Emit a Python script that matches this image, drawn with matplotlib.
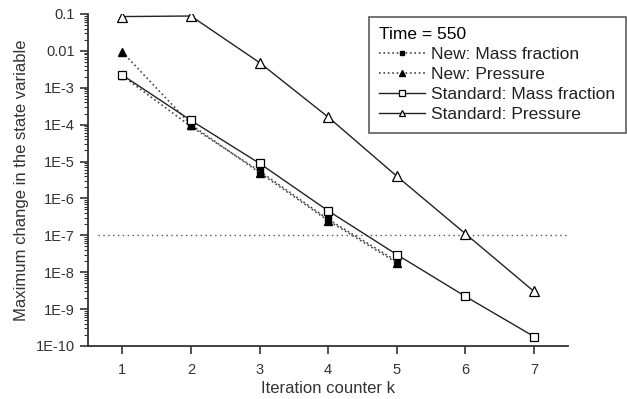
import matplotlib.pyplot as plt
from matplotlib.ticker import LogLocator, FixedLocator, FixedFormatter, NullFormatter

plt.rcParams['font.family'] = ['Liberation Sans', 'DejaVu Sans']

# data
k = [1, 2, 3, 4, 5, 6, 7]
new_mass = [2.1e-3, 8.9e-5, 5.5e-6, 2.7e-7, 2.0e-8]
new_pressure = [9.3e-3, 1.0e-4, 5.0e-6, 2.5e-7, 1.8e-8]
std_mass = [2.2e-3, 1.3e-4, 8.9e-6, 4.6e-7, 3.0e-8, 2.2e-9, 1.8e-10]
std_pressure = [0.085, 0.088, 4.8e-3, 1.6e-4, 4.0e-6, 1.1e-7, 3.0e-9]
tolerance = 1e-7

ytick_vals = [1e-10, 1e-9, 1e-8, 1e-7, 1e-6, 1e-5, 1e-4, 1e-3, 0.01, 0.1]
ytick_labels = ['1E-10', '1E-9', '1E-8', '1E-7', '1E-6', '1E-5', '1E-4', '1E-3', '0.01', '0.1']

fig = plt.figure(figsize=(6.27, 3.99), dpi=100)
ax = fig.add_axes([0.1404, 0.133, 0.766, 0.832])

gray = '#333333'
ax.axhline(tolerance, xmin=0.02, xmax=1.0, color='#555555', ls=(0, (1, 2.5)), lw=1.0)

ax.plot(k[:5], new_mass, ls=':', color='#444444', lw=1.2, marker='s', ms=5,
        mfc='black', mec='black', label='New: Mass fraction')
ax.plot(k[:5], new_pressure, ls=':', color='#444444', lw=1.2, marker='^', ms=6,
        mfc='black', mec='black', label='New: Pressure')
ax.plot(k, std_mass, ls='-', color='#222222', lw=1.0, marker='s', ms=6,
        mfc='white', mec='black', mew=0.9, label='Standard: Mass fraction')
ax.plot(k, std_pressure, ls='-', color='#222222', lw=1.0, marker='^', ms=7,
        mfc='white', mec='black', mew=0.9, label='Standard: Pressure')

ax.set_yscale('log')
ax.set_ylim(1e-10, 0.1)
ax.set_xlim(0.5, 7.5)
ax.yaxis.set_major_locator(FixedLocator(ytick_vals))
ax.yaxis.set_major_formatter(FixedFormatter(ytick_labels))
ax.yaxis.set_minor_locator(LogLocator(base=10, subs=range(2, 10), numticks=20))
ax.yaxis.set_minor_formatter(NullFormatter())
ax.set_xticks(k)

for s in ['top', 'right']:
    ax.spines[s].set_visible(False)
for s in ['left', 'bottom']:
    ax.spines[s].set_linewidth(1.3)
    ax.spines[s].set_color(gray)

ax.tick_params(axis='both', which='major', direction='out', length=6, width=1.2,
               colors=gray, labelsize=10.5)
ax.tick_params(axis='y', which='minor', direction='out', length=3, width=0.8, colors=gray)
ax.tick_params(axis='x', which='major', pad=6)

ax.set_xlabel('Iteration counter k', fontsize=12, color=gray, labelpad=3)
ax.set_ylabel('Maximum change in the state variable', fontsize=12, color=gray, labelpad=5)

leg = ax.legend(title='Time = 550', loc='upper right', bbox_to_anchor=(626 / 627, 1 - 17 / 399),
                bbox_transform=fig.transFigure, borderaxespad=0,
                frameon=True, fancybox=False, edgecolor='#333333', fontsize=12.5,
                title_fontsize=12.5, handlelength=2.6, handletextpad=0.4,
                labelspacing=0.28, borderpad=0.6, markerscale=0.7)
leg._legend_box.align = 'left'
leg.get_frame().set_linewidth(1.2)
for t in leg.get_texts():
    t.set_color('#222222')

fig.savefig('out.png', dpi=100)
